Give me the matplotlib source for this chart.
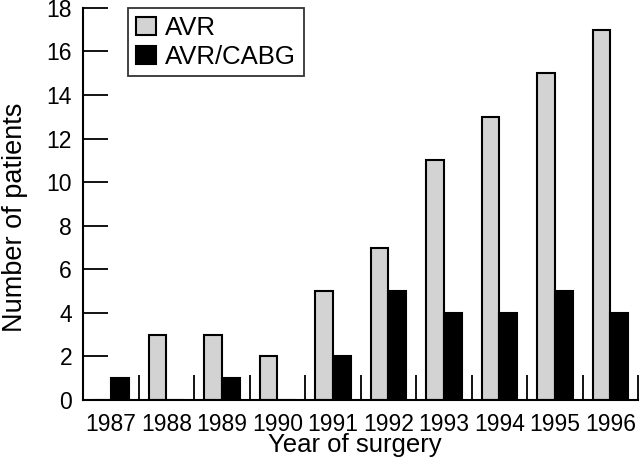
import matplotlib.pyplot as plt
import numpy as np

plt.rcParams['font.family'] = ['Liberation Sans', 'DejaVu Sans']

years = ["1987", "1988", "1989", "1990", "1991", "1992", "1993", "1994", "1995", "1996"]
avr = [0, 3, 3, 2, 5, 7, 11, 13, 15, 17]
avr_cabg = [1, 0, 1, 0, 2, 5, 4, 4, 5, 4]

fig = plt.figure(figsize=(6.4, 4.63), dpi=100)
ax = fig.add_axes([0.13, 0.136, 0.867, 0.847])

x = np.arange(len(years))
w = 0.32
ax.bar(x - w / 2, avr, w, color="#d3d3d3", edgecolor="black", linewidth=1.5, label="AVR")
ax.bar(x + w / 2, avr_cabg, w, color="black", edgecolor="black", linewidth=1.5, label="AVR/CABG")

ax.set_xlim(-0.5, len(years) - 0.5)
ax.set_ylim(0, 18)
ax.set_yticks(range(0, 19, 2))
ax.set_xticks(x)
ax.set_xticklabels(years)
ax.set_xticks(list(x + 0.5), minor=True)

ax.tick_params(axis="y", direction="in", length=18, width=1.3, labelsize=16.5, pad=8)
ax.tick_params(axis="x", which="major", length=0, labelsize=16.5, pad=9)
ax.tick_params(axis="x", which="minor", direction="in", length=18, width=1.3)

for s in ["top", "right"]:
    ax.spines[s].set_visible(False)
for s in ["left", "bottom"]:
    ax.spines[s].set_linewidth(1.5)

ax.set_xlabel("Year of surgery", fontsize=18.5, labelpad=0)
ax.set_ylabel("Number of patients", fontsize=19.5)
ax.yaxis.set_label_coords(-0.10, 0.467)
ax.xaxis.set_label_coords(0.49, -0.085)

leg = ax.legend(loc="upper left", bbox_to_anchor=(0.081, 1.0), fontsize=18.5, frameon=True,
                fancybox=False, edgecolor="black", handlelength=0.8, handleheight=0.7,
                handletextpad=0.35, borderpad=0.3, labelspacing=0.2, borderaxespad=0.0)
leg.get_frame().set_linewidth(1.3)

fig.savefig("out.png", dpi=100)
